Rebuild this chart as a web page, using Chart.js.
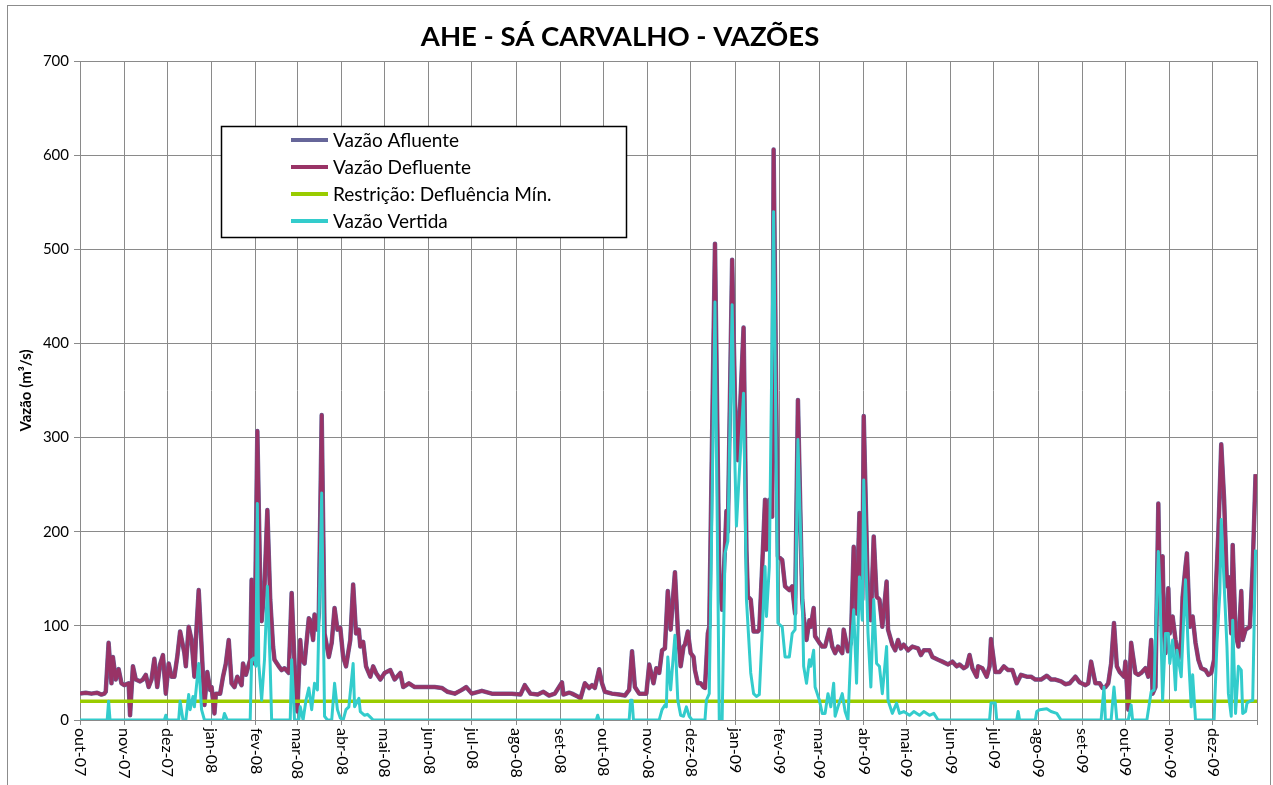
<!DOCTYPE html>
<html>
<head>
<meta charset="utf-8">
<script src="https://cdn.jsdelivr.net/npm/chart.js@4.4.1/dist/chart.umd.min.js"></script>
<style>
  html, body { margin: 0; padding: 0; background: #fff; }
  #box { width: 1273px; height: 785px; position: relative; }
</style>
</head>
<body>
<div id="box"><canvas id="grafico"></canvas></div>
<script>
// eixo x: dias contados a partir de 01/10/2007
const rotulosMeses = ['out-07','nov-07','dez-07','jan-08','fev-08','mar-08','abr-08','mai-08','jun-08','jul-08','ago-08','set-08',
    'out-08','nov-08','dez-08','jan-09','fev-09','mar-09','abr-09','mai-09','jun-09','jul-09','ago-09','set-09','out-09','nov-09','dez-09']
const inicioMeses = [0,31,61,92,123,152,183,213,244,274,305,336,366,397,427,458,489,517,548,578,609,639,670,701,731,762,792,823]

const titulo = 'AHE - SÁ CARVALHO - VAZÕES'
const restricaoMin = 20  // m³/s

// vazão defluente
const diasDefluente = [
    0,4,8,12,15,17,18,20,22,23,25,27,29,31,34,35,37,39,42,44,46,48,50,52,54,56,58,60,62,64,66,68,70,73,74,76,78,80,81,83,85,87,89,91,92,94,95,98,
    100,102,104,106,108,110,113,114,116,119,120,122,124,126,127,129,131,133,135,136,139,141,143,146,148,150,152,154,155,157,160,161,163,164,166,167,169,171,174,176,178,180,182,
    184,186,189,191,193,195,196,198,200,203,205,207,210,213,217,220,224,226,230,234,239,244,248,253,257,262,267,270,274,281,288,295,302,308,311,315,320,324,328,332,
    337,338,342,344,348,350,353,356,358,360,363,365,367,372,377,381,384,386,388,391,394,396,398,401,403,405,407,409,411,413,416,418,420,422,423,425,427,429,430,432,434,436,437,439,440,
    444,447,449,451,452,453,456,458,460,464,466,467,469,471,474,475,477,479,480,482,484,485,488,491,493,496,498,500,502,505,506,508,510,511,513,514,517,519,521,524,526,528,530,533,534,537,539,541,543,545,547,
    548,551,553,555,557,559,561,564,565,568,570,572,574,576,579,582,586,588,590,594,596,600,603,607,610,613,615,618,620,622,624,627,628,631,634,636,637,640,643,646,649,652,655,658,662,665,668,672,676,679,682,686,689,
    692,696,699,703,705,707,710,713,715,717,719,721,723,725,727,730,731,733,735,736,738,740,742,745,747,749,750,752,754,755,757,758,759,761,762,764,766,768,770,771,773,774,776,778,780,782,784,787,789,791,
    793,794,796,798,800,802,803,805,806,808,810,812,813,815,818,820,822
]
const vazaoDefluente = [
    28,29,28,29,27,28,30,82,39,67,43,54,39,37,39,5,57,43,41,43,48,35,43,65,35,59,69,28,60,46,46,67,94,71,57,99,85,46,85,138,78,16,51,32,35,7,28,28,
    46,60,85,39,35,46,37,60,48,64,149,60,307,145,105,142,223,128,78,64,57,53,55,50,135,60,9,85,64,60,108,106,85,112,96,113,324,92,67,82,119,96,98,
    67,57,85,144,92,96,78,83,57,46,57,50,43,50,53,43,50,35,39,35,35,35,35,34,30,28,32,35,28,31,28,28,28,27,37,28,27,30,26,28,
    40,27,29,28,25,23,39,34,37,34,54,39,30,28,27,26,32,73,35,28,28,28,59,39,55,50,74,76,137,96,157,96,57,78,80,94,71,67,53,39,39,35,34,92,99,
    506,150,117,184,222,200,489,338,276,417,180,131,128,94,94,96,163,234,181,234,216,606,174,170,142,138,142,113,340,128,110,85,106,99,119,89,82,78,78,96,78,71,78,71,96,73,82,184,113,220,128,
    323,128,106,195,131,128,99,147,96,80,74,85,76,80,74,78,76,69,74,74,67,64,62,59,62,57,59,55,57,69,55,46,57,55,46,57,86,51,51,57,53,53,39,48,46,46,43,43,47,43,43,41,38,
    39,46,40,37,39,62,39,39,34,35,39,60,103,57,51,46,62,11,82,71,50,48,50,55,46,85,28,35,230,135,174,92,71,140,92,110,85,64,85,131,163,177,99,110,82,64,55,53,48,50,
    64,131,199,293,234,142,152,92,186,92,78,137,85,96,99,163,261
]
// a afluente praticamente coincide com a defluente no gráfico
const vazaoAfluente = vazaoDefluente

// vazão vertida
const diasVertida = [
    0,19,20,21,59,60,61,69,70,72,74,76,77,79,80,83,85,87,100,101,103,119,120,122,123,124,125,127,129,131,133,134,
    147,148,150,153,154,156,158,160,162,164,166,169,171,173,176,178,180,182,184,186,188,191,192,195,196,199,201,203,205,
    361,362,363,384,385,386,387,405,407,409,410,411,413,416,418,420,422,424,426,428,437,438,440,
    444,446,447,449,451,453,456,458,459,464,466,469,471,473,475,477,479,480,482,485,488,491,493,496,498,500,502,505,506,508,510,511,513,514,517,519,521,523,525,527,528,530,533,535,537,539,541,543,545,547,
    548,551,553,555,557,559,561,564,565,568,571,573,576,580,583,587,590,594,597,600,636,637,640,641,655,656,657,668,669,671,676,679,683,686,
    714,716,717,721,723,725,733,735,736,746,749,751,752,754,755,757,759,761,762,764,766,767,770,771,773,775,777,778,780,
    793,795,797,798,800,802,803,805,806,808,810,812,813,815,816,818,820,822
]
const vazaoVertida = [
    0,0,20,0,0,5,0,0,20,0,0,27,11,25,14,60,11,0,0,7,0,0,64,66,57,230,60,21,64,142,57,0,
    0,64,0,0,14,0,21,34,11,39,32,241,4,0,0,39,11,2,0,11,14,60,14,23,9,5,6,3,0,
    0,5,0,0,21,21,0,0,11,16,14,67,32,90,21,5,4,14,4,0,0,21,28,
    444,150,0,0,177,190,441,268,206,347,128,50,28,25,27,92,163,110,163,540,103,99,67,67,92,96,298,138,57,39,64,57,74,35,21,7,7,28,14,39,4,14,28,9,0,74,117,39,152,106,
    255,92,35,128,60,57,28,78,21,7,18,7,9,5,9,5,9,5,7,0,0,18,18,0,0,9,0,0,9,11,12,9,7,0,
    0,35,0,0,35,0,0,16,0,0,30,32,85,179,145,21,92,92,60,85,32,74,46,82,149,71,14,48,0,
    0,82,135,213,145,78,28,4,106,7,57,53,7,9,18,20,21,181
]

const pares = (dias, vals) => dias.map((d, i) => ({x: d, y: vals[i]}))

const corGrade = '#8a8a8a'
const fonte = 'Lato, "DejaVu Sans", sans-serif'

// fundo, moldura externa e título
const moldura = {
    id: 'moldura',
    beforeDraw(chart) {
        const ctx = chart.ctx
        ctx.save()
        ctx.fillStyle = '#fff'
        ctx.fillRect(0, 0, chart.width, chart.height)
        ctx.strokeStyle = '#8c8c8c'
        ctx.lineWidth = 1
        ctx.strokeRect(7.5, 5.5, 1263, 800)
        ctx.fillStyle = '#000'
        ctx.font = 'bold 27.5px ' + fonte
        ctx.textAlign = 'center'
        ctx.textBaseline = 'middle'
        ctx.fillText(titulo, 620, 37)
        ctx.restore()
    }
}

// rótulos dos meses, girados (lidos de cima para baixo)
const rotulosX = {
    id: 'rotulosX',
    afterDraw(chart) {
        const ctx = chart.ctx
        const sx = chart.scales.x
        ctx.save()
        ctx.fillStyle = '#000'
        ctx.font = '16px ' + fonte
        ctx.textAlign = 'left'
        ctx.textBaseline = 'middle'
        rotulosMeses.forEach((txt, i) => {
            const x = sx.getPixelForValue(inicioMeses[i])
            ctx.save()
            ctx.translate(x, chart.chartArea.bottom + 8)
            ctx.rotate(Math.PI / 2)
            ctx.fillText(txt, 0, 0)
            ctx.restore()
        })
        ctx.restore()
    }
}

// legenda em caixa dentro da área do gráfico
const legenda = {
    id: 'legenda',
    afterDraw(chart) {
        const ctx = chart.ctx
        ctx.save()
        ctx.fillStyle = '#fff'
        ctx.fillRect(221, 126, 406, 112)
        ctx.strokeStyle = '#000'
        ctx.lineWidth = 1.5
        ctx.strokeRect(221.5, 126.5, 405, 111)
        ctx.font = '19px ' + fonte
        ctx.textBaseline = 'middle'
        chart.data.datasets.forEach((ds, i) => {
            const y = 140 + i * 27
            ctx.strokeStyle = ds.borderColor
            ctx.lineWidth = 4
            ctx.beginPath()
            ctx.moveTo(291, y)
            ctx.lineTo(328, y)
            ctx.stroke()
            ctx.fillStyle = '#000'
            ctx.fillText(ds.label, 333, y + 1)
        })
        ctx.restore()
    }
}

const comum = {pointRadius: 0, tension: 0, fill: false, borderJoinStyle: 'round'}

const ctx = document.getElementById('grafico').getContext('2d')
const grafico = new Chart(ctx, {
    type: 'line',
    data: {
        datasets: [
            {...comum, label: 'Vazão Afluente', data: pares(diasDefluente, vazaoAfluente), borderColor: '#666699', borderWidth: 4.5, order: 4},
            {...comum, label: 'Vazão Defluente', data: pares(diasDefluente, vazaoDefluente), borderColor: '#993366', borderWidth: 3.5, order: 3},
            {...comum, label: 'Restrição: Defluência Mín.', data: [{x: 0, y: restricaoMin}, {x: 823, y: restricaoMin}], borderColor: '#99cc00', borderWidth: 3.5, order: 2},
            {...comum, label: 'Vazão Vertida', data: pares(diasVertida, vazaoVertida), borderColor: '#33cccc', borderWidth: 3, order: 1},
        ]
    },
    options: {
        animation: false,
        responsive: true,
        maintainAspectRatio: false,
        layout: {padding: {left: 8, right: 16, top: 61, bottom: 0}},
        plugins: {
            legend: {display: false},
            tooltip: {enabled: false},
            title: {display: false}
        },
        scales: {
            x: {
                type: 'linear',
                min: 0,
                max: 823,
                afterBuildTicks: (s) => { s.ticks = inicioMeses.map(v => ({value: v})) },
                afterFit: (s) => { s.height = 65 },
                ticks: {display: false},
                grid: {color: corGrade, tickLength: 5},
                border: {color: corGrade}
            },
            y: {
                min: 0,
                max: 700,
                afterFit: (s) => { s.width = 72 },
                ticks: {stepSize: 100, color: '#000', font: {family: fonte, size: 15}, padding: 5},
                grid: {color: corGrade, tickLength: 6},
                border: {color: corGrade},
                title: {display: true, text: 'Vazão (m³/s)', color: '#000', font: {family: fonte, size: 15, weight: 'bold'}, padding: {top: 9, bottom: 0}}
            }
        }
    },
    plugins: [moldura, rotulosX, legenda]
})
</script>
</body>
</html>
